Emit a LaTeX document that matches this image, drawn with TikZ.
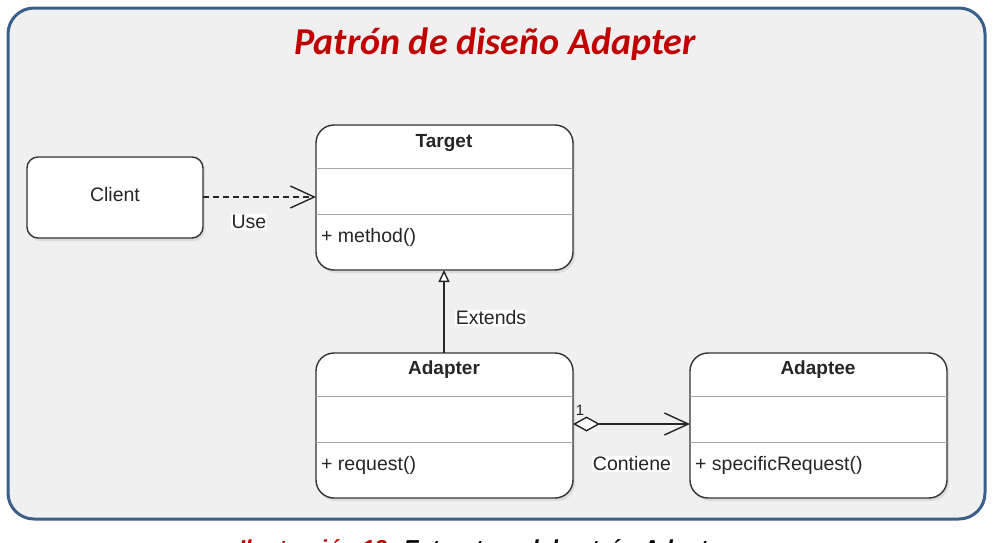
\documentclass[tikz,border=0pt]{standalone}
\usepackage{fontspec}
\setmainfont{Liberation Sans}
\newfontfamily\titlefont{Carlito}
\usetikzlibrary{arrows.meta,shadows}
\definecolor{framec}{HTML}{3C5F87}
\definecolor{bgc}{HTML}{F0F0F0}
\definecolor{titlec}{HTML}{C00000}
\definecolor{linec}{HTML}{333333}
\tikzset{
  umlbox/.style={draw=linec, line width=1.4pt, fill=white, rounded corners=18pt, drop shadow={shadow xshift=2pt, shadow yshift=-3pt, opacity=0.18}},
  sepline/.style={draw=gray!70, line width=0.9pt},
  lbl/.style={font=\fontsize{19.5}{22}\selectfont, inner sep=1pt, text=black!85},
  boldlbl/.style={lbl, font=\bfseries\fontsize{19}{22}\selectfont},
  lblbg/.style={lbl, fill=white},
  conn/.style={draw=black!85, line width=1.4pt},
  barb/.tip={Straight Barb[length=24pt,width=22pt,line width=1.4pt]},
}
\begin{document}
\begin{tikzpicture}[x=1pt,y=-1pt]
\useasboundingbox (0,0) rectangle (993,542);
\clip (0,0) rectangle (993,542);
\fill[white] (0,0) rectangle (993,542);
% frame
\draw[draw=framec, line width=3pt, fill=bgc, rounded corners=26pt] (8,8) rectangle (985,519);
% title
\node[anchor=base, inner sep=0pt] (title) at (495,54) {\titlefont\bfseries\itshape\fontsize{38}{44}\selectfont\color{titlec}Patrón de diseño Adapter};
% client
\draw[umlbox, rounded corners=11pt] (27,157) rectangle (203,238);
\node[lbl] (client) at (115,195) {Client};
\coordinate (clientE) at (203,197);
% target
\draw[umlbox] (316,125) rectangle (573,270);
\draw[sepline] (316,168) -- (573,168);
\draw[sepline] (316,214) -- (573,214);
\node[boldlbl] (target) at (444,143) {Target};
\node[lbl, anchor=west] (tm) at (320,237) {+ method()};
\coordinate (targetW) at (316,197);
\coordinate (targetS) at (444,270);
% adapter
\draw[umlbox] (316,353) rectangle (573,498);
\draw[sepline] (316,396) -- (573,396);
\draw[sepline] (316,442) -- (573,442);
\node[boldlbl] (adapter) at (444,370) {Adapter};
\node[lbl, anchor=west] (am) at (320,465) {+ request()};
\coordinate (adapterN) at (444,353);
\coordinate (adapterE) at (573,424);
% adaptee
\draw[umlbox] (690,353) rectangle (947,498);
\draw[sepline] (690,396) -- (947,396);
\draw[sepline] (690,442) -- (947,442);
\node[boldlbl] (adaptee) at (818,370) {Adaptee};
\node[lbl, anchor=west] (aem) at (694,465) {+ specificRequest()};
\coordinate (adapteeW) at (690,424);
% connectors
\draw[conn, dash pattern=on 6pt off 4pt, -barb] (clientE) -- (targetW);
\node[lblbg] (use) at (249,222) {Use};
\draw[conn, -{Triangle[open,length=12pt,width=11pt,fill=white]}] (adapterN) -- (targetS);
\node[lblbg] (ext) at (491,318) {Extends};
\draw[conn, {Diamond[open,length=27pt,width=15pt,fill=white]}-barb] (adapterE) -- (adapteeW);
\node[lbl, font=\fontsize{15}{17}\selectfont] (one) at (580,410) {1};
\node[lblbg] (cont) at (632,464) {Contiene};
% caption (cut off at the bottom edge, as in the reference)
\node (cap) at (484,550) {\bfseries\itshape\fontsize{23}{26}\selectfont\color{titlec}Ilustración 13: \color{black}Estructura del patrón Adapter};
\end{tikzpicture}
\end{document}
